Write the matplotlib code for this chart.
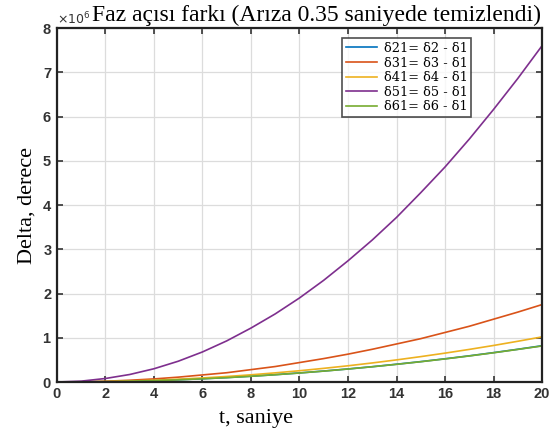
import matplotlib
matplotlib.use("Agg")
import matplotlib.pyplot as plt
from matplotlib.ticker import ScalarFormatter

# time axis (seconds) and phase angle differences (x1e6 degrees)
t = list(range(0, 21))
d21 = [0, 0.002, 0.008, 0.018, 0.033, 0.051, 0.074, 0.100, 0.131, 0.166, 0.205,
       0.248, 0.295, 0.346, 0.402, 0.461, 0.525, 0.592, 0.664, 0.740, 0.820]
d31 = [0, 0.004, 0.018, 0.040, 0.070, 0.110, 0.160, 0.210, 0.280, 0.350, 0.440,
       0.530, 0.630, 0.740, 0.860, 0.980, 1.120, 1.260, 1.420, 1.580, 1.750]
d41 = [0, 0.003, 0.010, 0.023, 0.041, 0.064, 0.092, 0.125, 0.163, 0.207, 0.255,
       0.309, 0.367, 0.431, 0.500, 0.574, 0.653, 0.737, 0.826, 0.921, 1.020]
d51 = [0, 0.020, 0.080, 0.170, 0.300, 0.470, 0.680, 0.930, 1.220, 1.540, 1.900,
       2.300, 2.740, 3.210, 3.720, 4.280, 4.860, 5.490, 6.160, 6.860, 7.600]
d61 = [0, 0.002, 0.008, 0.018, 0.032, 0.050, 0.073, 0.099, 0.130, 0.165, 0.204,
       0.247, 0.294, 0.345, 0.400, 0.459, 0.522, 0.589, 0.661, 0.737, 0.815]

series = [d21, d31, d41, d51, d61]
labels = ["δ21= δ2 - δ1", "δ31= δ3 - δ1", "δ41= δ4 - δ1",
          "δ51= δ5 - δ1", "δ61= δ6 - δ1"]
colors = ["#0072BD", "#D95319", "#EDB120", "#7E2F8E", "#77AC30"]

fig = plt.figure(figsize=(5.51, 4.32), dpi=100)
ax = fig.add_axes([0.1034, 0.1157, 0.8803, 0.8193])

for vals, lab, c in zip(series, labels, colors):
    ax.plot(t, [v * 1e6 for v in vals], color=c, lw=1.2, label=lab)

ax.set_xlim(0, 20)
ax.set_ylim(0, 8e6)
ax.set_xticks(range(0, 21, 2))
ax.set_yticks([i * 1e6 for i in range(9)])

fmt = ScalarFormatter(useMathText=True)
fmt.set_powerlimits((0, 0))
ax.yaxis.set_major_formatter(fmt)
ax.yaxis.get_offset_text().set_fontsize(9)
ax.yaxis.get_offset_text().set_color("#333333")

ax.grid(True, color="#dcdcdc", lw=0.9)
ax.tick_params(direction="in", top=True, right=True, length=4, width=1.2,
               labelsize=10.5, colors="#333333")
for lab in ax.get_xticklabels() + ax.get_yticklabels():
    lab.set_fontweight("bold")
    lab.set_family("Liberation Sans")
for s in ax.spines.values():
    s.set_linewidth(1.6)
    s.set_color("#222222")

ax.set_title("Faz açısı farkı (Arıza 0.35 saniyede temizlendi)",
             family="Liberation Serif", fontsize=17, x=0.535, pad=5)
ax.set_xlabel("t, saniye", family="Liberation Serif", fontsize=16)
ax.xaxis.set_label_coords(0.41, -0.075)
ax.set_ylabel("Delta, derece", family="Liberation Serif", fontsize=16)

leg = ax.legend(loc="upper left", bbox_to_anchor=(0.575, 0.99),
                prop={"family": "DejaVu Serif", "size": 9.3},
                frameon=True, fancybox=False, edgecolor="#222222",
                handlelength=2.4, borderpad=0.3, labelspacing=0.12,
                handletextpad=0.5)
leg.get_frame().set_linewidth(1.2)

plt.savefig("out.png", dpi=100)
